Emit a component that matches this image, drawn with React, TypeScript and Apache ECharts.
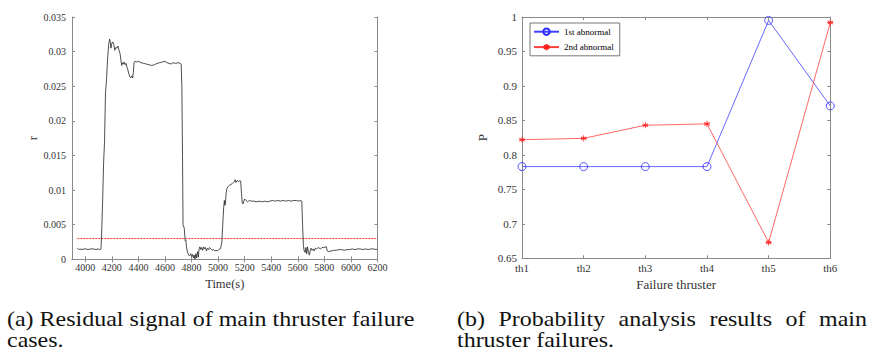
import React, { useEffect, useRef } from 'react';
import * as echarts from 'echarts';

// ---------- data ----------
const residualTime = [
  3940, 3950, 3960, 3975, 3990, 4005, 4020, 4040, 4060, 4080, 4095, 4110, 4118,
  4122, 4130, 4138, 4145, 4152, 4160, 4168, 4176, 4183, 4188,
  4193, 4200, 4207, 4215, 4222, 4230, 4238, 4246, 4254, 4262, 4268, 4274, 4280, 4287, 4293, 4300,
  4307, 4313, 4320, 4328, 4335, 4342, 4350, 4357, 4362, 4367, 4373, 4385, 4400, 4420, 4440, 4460,
  4480, 4500, 4520, 4540, 4560, 4580, 4600, 4615, 4630, 4645, 4660, 4680, 4700, 4715, 4722,
  4727, 4732, 4736, 4745, 4752, 4757, 4762, 4770, 4778, 4786, 4794, 4802, 4808, 4814, 4820, 4826,
  4832, 4838, 4845, 4851, 4857, 4863, 4870, 4877, 4884, 4891, 4898, 4905, 4912, 4920, 4928, 4936,
  4945, 4955, 4965, 4975, 4985, 4995, 5005, 5015, 5022,
  5028, 5035, 5042, 5047, 5051, 5055, 5060, 5066, 5075, 5085, 5095, 5105, 5115, 5122, 5128, 5134,
  5140, 5146, 5152, 5158, 5164, 5170, 5176, 5182, 5188, 5194, 5200, 5210, 5222, 5235, 5250, 5270,
  5290, 5310, 5330, 5350, 5370, 5390, 5410, 5430, 5450, 5470, 5490, 5510, 5530, 5550, 5570, 5590,
  5610, 5625, 5630,
  5636, 5642, 5648, 5655, 5661, 5667, 5673, 5680, 5687, 5693, 5700, 5708, 5716, 5724, 5732, 5742,
  5752, 5762, 5772, 5782, 5792, 5815, 5822, 5830, 5850, 5870, 5890, 5910, 5930, 5950, 5970, 5990,
  6010, 6030, 6050, 6070, 6090, 6110, 6130, 6150, 6170, 6190, 6200,
];
const residualValue = [
  0.0016, 0.0014, 0.0015, 0.0014, 0.0015, 0.0015, 0.0014, 0.0015, 0.0015, 0.0014, 0.0015, 0.0014, 0.0015,
  0.003, 0.008, 0.014, 0.017, 0.024, 0.026, 0.029, 0.031, 0.0318, 0.0315,
  0.0305, 0.0312, 0.0314, 0.031, 0.0302, 0.0306, 0.0305, 0.0308, 0.0302, 0.0297, 0.0288, 0.028, 0.0284, 0.0282, 0.0285, 0.0281,
  0.0283, 0.0278, 0.0274, 0.0268, 0.0264, 0.0262, 0.0265, 0.0262, 0.027, 0.0284, 0.0286, 0.0285, 0.0286, 0.0284, 0.0283, 0.0282,
  0.0281, 0.028, 0.0281, 0.0283, 0.0284, 0.0285, 0.0286, 0.0284, 0.0283, 0.0282, 0.0284, 0.0283, 0.0284, 0.0283, 0.0282,
  0.025, 0.015, 0.005, 0.0045, 0.0027, 0.0028, 0.0018, 0.001, 0.0006, 0.0005, 0.0008, 0.0004, 0.0007, 0.0002, 0.0006, 0.0,
  0.0008, 0.0002, 0.0011, 0.0003, 0.0015, 0.0018, 0.0014, 0.0017, 0.0013, 0.0018, 0.0015, 0.0017, 0.0012, 0.0016, 0.0014, 0.0017,
  0.0015, 0.0013, 0.0014, 0.0012, 0.0013, 0.0012, 0.0014, 0.0015, 0.0018,
  0.0025, 0.005, 0.0075, 0.0085, 0.0078, 0.008, 0.0095, 0.0102, 0.0105, 0.0107, 0.0108, 0.0109, 0.0111, 0.0112, 0.0115, 0.0111,
  0.0113, 0.0114, 0.0112, 0.0113, 0.0114, 0.0113, 0.0095, 0.0081, 0.008, 0.0084, 0.0087, 0.0085, 0.0083, 0.0085, 0.0084, 0.0084,
  0.0083, 0.0084, 0.0083, 0.0084, 0.0083, 0.0084, 0.0085, 0.0084, 0.0085, 0.0084, 0.0085, 0.0084, 0.0085, 0.0084, 0.0085, 0.0085,
  0.0084, 0.0085, 0.0084,
  0.005, 0.002, 0.0012, 0.001, 0.0017, 0.0008, 0.0018, 0.0011, 0.0006, 0.0012, 0.0016, 0.0013, 0.0015, 0.0012, 0.0016, 0.0015,
  0.0017, 0.0016, 0.0015, 0.0017, 0.0017, 0.0018, 0.0012, 0.0011, 0.0012, 0.0013, 0.0013, 0.0014, 0.0014, 0.0013, 0.0014, 0.0014,
  0.0015, 0.0014, 0.0015, 0.0015, 0.0014, 0.0015, 0.0014, 0.0015, 0.0015, 0.0014, 0.0015,
];
const thresholdValue = 0.003;
const thresholdSpan = [3940, 6200];
const timeTicks = [4000, 4200, 4400, 4600, 4800, 5000, 5200, 5400, 5600, 5800, 6000, 6200];

const thrusters = ['th1', 'th2', 'th3', 'th4', 'th5', 'th6'];
const firstAbnormal = [0.783, 0.783, 0.783, 0.783, 0.995, 0.871];
const secondAbnormal = [0.822, 0.824, 0.843, 0.845, 0.673, 0.992];

const captionA = ['(a) Residual signal of main thruster failure', 'cases.'];
const captionBWords = ['(b)', 'Probability', 'analysis', 'results', 'of', 'main'];
const captionBLine2 = 'thruster failures.';

// ---------- styling ----------
const SERIF = 'Liberation Serif';
const AX = '#8a8a8a';
const LBL = '#333333';
const CAP_SIZE = 22;
const CAP_SCALE = 1.09;

const asterisk =
  'path://M5,0L5,10M0.67,2.5L9.33,7.5M0.67,7.5L9.33,2.5M0,5L10,5';

function boxAxis(extra: any) {
  return {
    axisLine: { show: true, lineStyle: { color: AX, width: 1 } },
    splitLine: { show: false },
    ...extra,
  };
}

// justify words of a caption line between x0 and x1 (like LaTeX does)
function justify(words: string[], x0: number, x1: number): number[] {
  const ctx = document.createElement('canvas').getContext('2d');
  const widths = words.map((w) => {
    if (!ctx) return w.length * CAP_SIZE * 0.45 * CAP_SCALE;
    ctx.font = `${CAP_SIZE}px "${SERIF}"`;
    return ctx.measureText(w).width * CAP_SCALE;
  });
  const total = widths.reduce((a, b) => a + b, 0);
  const gap = (x1 - x0 - total) / (words.length - 1);
  const xs: number[] = [];
  let x = x0;
  widths.forEach((w) => {
    xs.push(x);
    x += w + gap;
  });
  return xs;
}

export default function App() {
  const ref = useRef<HTMLDivElement>(null);

  useEffect(() => {
    document.body.style.margin = '0';
    if (!ref.current) return;
    const chart = echarts.init(ref.current, null, { renderer: 'svg' });

    const gA = { left: 72, top: 17, width: 305.5, height: 242.3 };
    const gB = { left: 522, top: 17, width: 308.3, height: 241.3 };

    const tickA = { show: true, inside: true, length: 3, lineStyle: { color: AX } };
    const capText = (text: string, x: number, y: number) => ({
      type: 'text', x, y, scaleX: CAP_SCALE,
      style: {
        text, fontFamily: SERIF, fontSize: CAP_SIZE, lineHeight: 20,
        fill: '#111111', verticalAlign: 'top',
      },
    });
    const bx = justify(captionBWords, 457, 867);
    const y1 = 308;
    const y2 = 329;

    const option: any = {
      animation: false,
      backgroundColor: '#ffffff',
      textStyle: { fontFamily: SERIF },
      grid: [
        { ...gA, containLabel: false },
        { ...gB, containLabel: false },
      ],
      xAxis: [
        boxAxis({
          type: 'value', gridIndex: 0, position: 'bottom', min: 3900, max: 6200,
          axisTick: { ...tickA, customValues: timeTicks },
          axisLabel: {
            customValues: timeTicks, fontFamily: SERIF, fontSize: 10, color: LBL, margin: 3,
            formatter: (v: number) => String(v),
          },
          name: 'Time(s)', nameLocation: 'middle', nameGap: 16,
          nameTextStyle: { fontFamily: SERIF, fontSize: 12.5, color: LBL },
        }),
        boxAxis({
          type: 'value', gridIndex: 0, position: 'top', min: 3900, max: 6200,
          axisTick: { ...tickA, customValues: timeTicks },
          axisLabel: { show: false },
        }),
        boxAxis({
          type: 'category', gridIndex: 1, position: 'bottom', data: thrusters, boundaryGap: false,
          axisTick: { ...tickA },
          axisLabel: { fontFamily: SERIF, fontSize: 11, color: LBL, margin: 4 },
          name: 'Failure thruster', nameLocation: 'middle', nameGap: 19,
          nameTextStyle: { fontFamily: SERIF, fontSize: 13, color: LBL },
        }),
        boxAxis({
          type: 'category', gridIndex: 1, position: 'top', data: thrusters, boundaryGap: false,
          axisTick: { ...tickA },
          axisLabel: { show: false },
        }),
      ],
      yAxis: [
        boxAxis({
          type: 'value', gridIndex: 0, position: 'left', min: 0, max: 0.035, interval: 0.005,
          axisTick: { ...tickA },
          axisLabel: { fontFamily: SERIF, fontSize: 10, color: LBL, margin: 6 },
          name: 'r', nameLocation: 'middle', nameGap: 31,
          nameTextStyle: { fontFamily: SERIF, fontSize: 12.5, color: LBL },
        }),
        boxAxis({
          type: 'value', gridIndex: 0, position: 'right', min: 0, max: 0.035, interval: 0.005,
          axisTick: { ...tickA },
          axisLabel: { show: false },
        }),
        boxAxis({
          type: 'value', gridIndex: 1, position: 'left', min: 0.65, max: 1, interval: 0.05,
          axisTick: { ...tickA },
          axisLabel: { fontFamily: SERIF, fontSize: 11, color: LBL, margin: 5 },
          name: 'P', nameLocation: 'middle', nameGap: 33,
          nameTextStyle: { fontFamily: SERIF, fontSize: 13, color: LBL },
        }),
        boxAxis({
          type: 'value', gridIndex: 1, position: 'right', min: 0.65, max: 1, interval: 0.05,
          axisTick: { ...tickA },
          axisLabel: { show: false },
        }),
      ],
      legend: {
        left: 530, top: 23, orient: 'vertical',
        data: ['1st abnormal', '2nd abnormal'],
        backgroundColor: '#ffffff',
        borderColor: '#555555', borderWidth: 0.8,
        padding: [3, 6, 3, 3],
        itemWidth: 25, itemHeight: 8, itemGap: 4,
        textStyle: { fontFamily: SERIF, fontSize: 9, color: '#000000' },
      },
      series: [
        {
          name: 'residual', type: 'line', xAxisIndex: 0, yAxisIndex: 0,
          data: residualTime.map((t, i) => [t, residualValue[i]]),
          showSymbol: false, symbol: 'none',
          lineStyle: { color: '#222222', width: 0.8 },
          z: 3,
        },
        {
          name: 'threshold', type: 'line', xAxisIndex: 0, yAxisIndex: 0,
          data: thresholdSpan.map((t) => [t, thresholdValue]),
          showSymbol: false, symbol: 'none',
          lineStyle: { color: '#ff0000', width: 0.8, type: [2, 1] },
          z: 2,
        },
        {
          name: '1st abnormal', type: 'line', xAxisIndex: 2, yAxisIndex: 2,
          data: firstAbnormal,
          symbol: 'circle', symbolSize: 8,
          itemStyle: { color: 'none', borderColor: '#2a2aff', borderWidth: 0.8 },
          lineStyle: { color: '#4040ff', width: 0.8 },
        },
        {
          name: '2nd abnormal', type: 'line', xAxisIndex: 2, yAxisIndex: 2,
          data: secondAbnormal,
          symbol: asterisk, symbolSize: 6,
          itemStyle: { color: 'none', borderColor: '#ff2020', borderWidth: 0.9 },
          lineStyle: { color: '#ff4040', width: 0.8 },
        },
      ],
      graphic: [
        capText(captionA[0], 7, y1),
        capText(captionA[1], 7, y2),
        ...captionBWords.map((w, i) => capText(w, bx[i], y1)),
        capText(captionBLine2, 457, y2),
      ],
    };

    chart.setOption(option);
    return () => chart.dispose();
  }, []);

  return <div ref={ref} style={{ width: 872, height: 350 }} />;
}
